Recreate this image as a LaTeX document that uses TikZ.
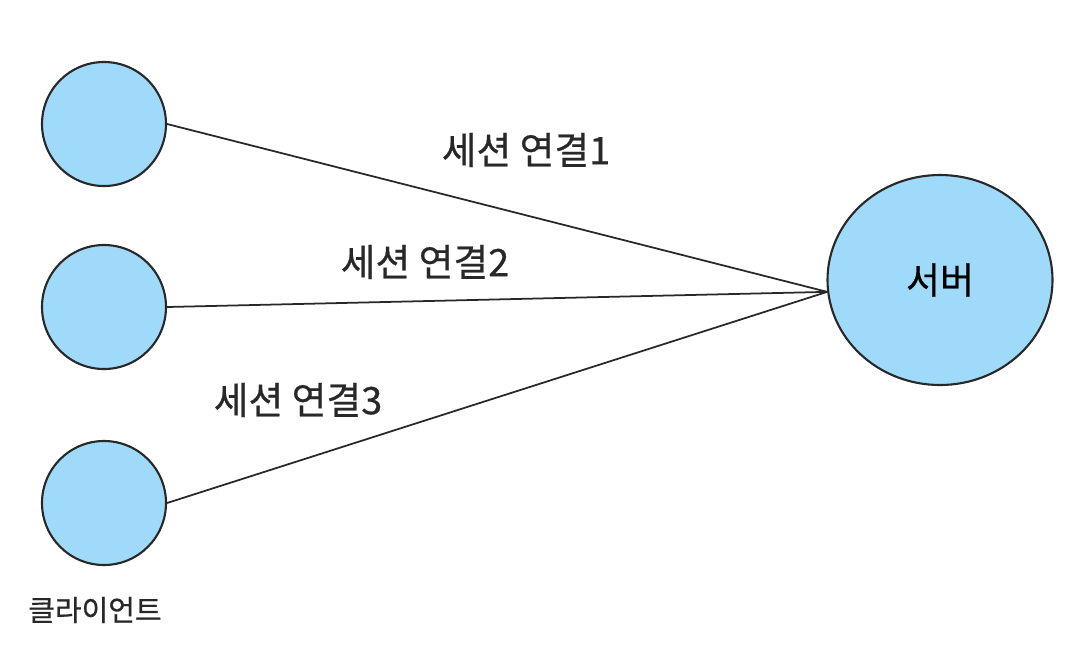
\documentclass[tikz,border=0pt]{standalone}
\usepackage{fontspec}
\setmainfont{Noto Sans CJK KR}
\newfontfamily\labelfont{Noto Sans CJK KR}[FakeBold=0.6]
\usepackage{tikz}
\usetikzlibrary{shapes.geometric, positioning}

\definecolor{nodeblue}{RGB}{160,218,250}
\definecolor{linegray}{RGB}{40,40,40}

\begin{document}
\begin{tikzpicture}[
    node distance=1.2cm,
    clientnode/.style={circle, draw=linegray, line width=1.2pt, fill=nodeblue, minimum size=2.48cm, inner sep=0pt},
    servernode/.style={ellipse, draw=linegray, line width=1.2pt, fill=nodeblue, minimum width=4.5cm, minimum height=4.2cm, inner sep=0pt, font=\labelfont\fontsize{21}{24}\selectfont},
    sessionlabel/.style={font=\labelfont\fontsize{21.5}{25}\selectfont, text=linegray},
    link/.style={draw=linegray, line width=1pt}
  ]
    \useasboundingbox (0,0) rectangle (21.48,-13.24);

    % Clients
    \node[clientnode] (client1) at (2.08,-2.48) {};
    \node[clientnode] (client2) at (2.08,-6.14) {};
    \node[clientnode] (client3) at (2.08,-10.06) {};
    \node[font=\labelfont\fontsize{16.5}{19}\selectfont, text=linegray] (clientlabel) at (1.9,-12.2) {클라이언트};

    % Server
    \node[servernode] (server) at (18.8,-5.6) {서버};
    \coordinate (meet) at (server.186);

    % Sessions
    \draw[link] (client1.east) -- (meet);
    \draw[link] (client2.east) -- (meet);
    \draw[link] (client3.east) -- (meet);

    \node[sessionlabel] (session1) at (10.52,-3.0) {세션 연결1};
    \node[sessionlabel] (session2) at (8.5,-5.24) {세션 연결2};
    \node[sessionlabel] (session3) at (5.96,-8.0) {세션 연결3};
  \end{tikzpicture}
\end{document}
